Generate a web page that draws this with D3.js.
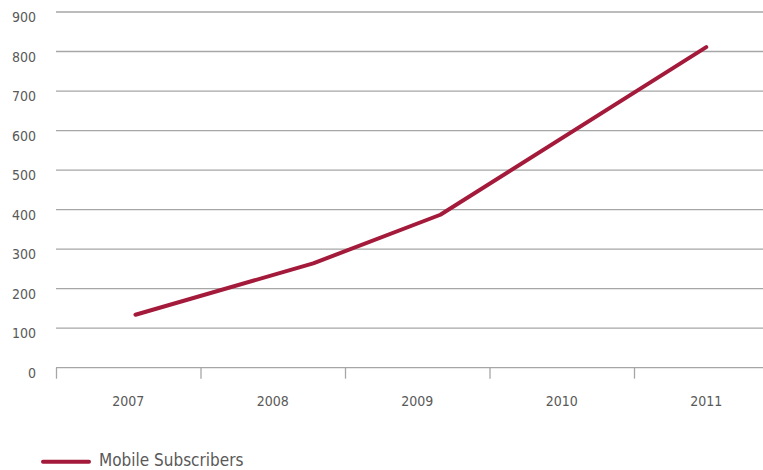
<!DOCTYPE html>
<html>
<head>
<meta charset="utf-8">
<script src="https://cdn.jsdelivr.net/npm/d3@7"></script>
<style>
  body { margin: 0; background: #fff; }
  svg { display: block; overflow: hidden; }
  .lbl { font-family: "Liberation Sans Narrow", "DejaVu Sans Condensed", "Roboto", sans-serif; fill: #595959; }
</style>
</head>
<body>
<div class="graph-main"></div>
<script>
// data
const years = ['2007', '2008', '2009', '2010', '2011']
const yTicks = [0, 100, 200, 300, 400, 500, 600, 700, 800, 900]
// where each reading sits along the year axis (year units)
const pointYears = [2007.05, 2008.28, 2009.16, 2011.0]
const subscribers = [134, 264, 387, 811]
const seriesName = 'Mobile Subscribers'

// canvas
const width = 763
const height = 470
const plotLeft = 56
const plotRight = 778.5
const plotTop = 12
const plotBottom = 367.7
const red = '#a41a3b'
const grey = '#a6a6a6'

const svg = d3.select('.graph-main')
  .append('svg')
  .attr('width', width)
  .attr('height', height)

// scales
const xBand = d3.scaleBand().domain(years).range([plotLeft, plotRight])
const xScale = d3.scaleLinear().domain([2006.5, 2011.5]).range([plotLeft, plotRight])
const yScale = d3.scaleLinear().domain([0, 900]).range([plotBottom, plotTop])

// gridlines
svg.append('g')
  .selectAll('line')
  .data(yTicks.filter(d => d > 0))
  .enter()
  .append('line')
  .attr('x1', plotLeft)
  .attr('x2', width)
  .attr('y1', d => yScale(d))
  .attr('y2', d => yScale(d))
  .attr('stroke', grey)
  .attr('stroke-width', 1.3)

// y labels
svg.append('g')
  .selectAll('text')
  .data(yTicks)
  .enter()
  .append('text')
  .attr('class', 'lbl')
  .attr('x', 36)
  .attr('y', d => yScale(d) + 10)
  .attr('text-anchor', 'end')
  .style('font-size', '14px')
  .text(d => d)

// x axis: ticks on the band edges
const xAxis = d3.axisBottom(xScale)
  .tickValues(d3.range(2006.5, 2012, 1))
  .tickSize(11)
  .tickFormat('')
svg.append('g')
  .attr('transform', `translate(0, ${plotBottom})`)
  .call(xAxis)
  .call(g => g.selectAll('line').attr('stroke', grey).attr('stroke-width', 1.3))
  .call(g => g.select('.domain').remove())

svg.append('line')
  .attr('x1', plotLeft)
  .attr('x2', width)
  .attr('y1', plotBottom)
  .attr('y2', plotBottom)
  .attr('stroke', grey)
  .attr('stroke-width', 1.3)

// x labels
svg.append('g')
  .selectAll('text')
  .data(years)
  .enter()
  .append('text')
  .attr('class', 'lbl')
  .attr('x', d => xBand(d) + xBand.bandwidth() / 2)
  .attr('y', 406)
  .attr('text-anchor', 'middle')
  .style('font-size', '14px')
  .text(d => d)

// line
const line = d3.line()
  .x((d, i) => xScale(pointYears[i]))
  .y(d => yScale(d))

svg.append('path')
  .datum(subscribers)
  .attr('d', line)
  .attr('fill', 'none')
  .attr('stroke', red)
  .attr('stroke-width', 4)
  .attr('stroke-linecap', 'round')
  .attr('stroke-linejoin', 'round')

// legend
svg.append('line')
  .attr('x1', 43)
  .attr('x2', 89)
  .attr('y1', 461.7)
  .attr('y2', 461.7)
  .attr('stroke', red)
  .attr('stroke-width', 4)
  .attr('stroke-linecap', 'round')

svg.append('text')
  .attr('class', 'lbl')
  .attr('x', 99)
  .attr('y', 466)
  .style('font-size', '17px')
  .text(seriesName)
</script>
</body>
</html>
